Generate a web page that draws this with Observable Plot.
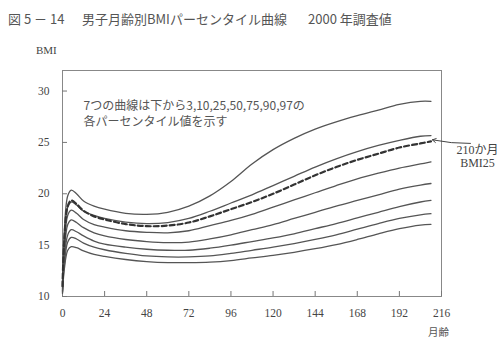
<!DOCTYPE html>
<html>
<head>
<meta charset="utf-8">
<script src="https://cdn.jsdelivr.net/npm/d3@7"></script>
<script src="https://cdn.jsdelivr.net/npm/@observablehq/plot@0.6"></script>
<style>
  html, body { margin: 0; padding: 0; background: #fff; }
  #wrap { position: relative; width: 500px; height: 362px; overflow: hidden; }
  .lbl { position: absolute; white-space: pre; color: #555; }
  .title { font-family: "Noto Sans CJK JP", sans-serif; font-size: 13px; line-height: 13px; top: 12px; color: #555; }
  .serif { font-family: "Liberation Serif", serif; font-size: 11px; line-height: 12px; color: #444; }
  .cjk { font-family: "Noto Sans CJK JP", sans-serif; font-size: 10.5px; line-height: 12px; color: #555; }
</style>
</head>
<body>
<div id="wrap">
  <div class="lbl title" style="left:8px">図 5 － 14</div>
  <div class="lbl title" style="left:82px">男子月齢別BMIパーセンタイル曲線</div>
  <div class="lbl title" style="left:308px">2000 年調査値</div>
  <div class="lbl serif" style="left:36px; top:44px">BMI</div>
  <div class="lbl cjk" style="left:428px; top:326px">月齢</div>
</div>
<script>
// ---- data ----
const months = [0, 1, 3, 5, 8, 12, 18, 24, 36, 48, 60, 72, 84, 96, 108, 120, 132, 144, 156, 168, 180, 192, 204, 210];
const p97 = [11.2, 16.3, 19.8, 20.35, 20.0, 19.3, 18.8, 18.5, 18.1, 18.0, 18.2, 18.8, 19.8, 21.2, 22.9, 24.3, 25.4, 26.3, 27.0, 27.6, 28.15, 28.7, 29.0, 29.0];
const p90 = [11.0, 15.4, 18.7, 19.2, 18.9, 18.3, 17.9, 17.6, 17.25, 17.1, 17.2, 17.6, 18.3, 19.1, 19.9, 20.8, 21.7, 22.6, 23.4, 24.1, 24.7, 25.2, 25.6, 25.66];
const p75 = [10.8, 14.8, 17.9, 18.4, 18.1, 17.5, 17.0, 16.75, 16.4, 16.25, 16.2, 16.4, 16.9, 17.4, 18.0, 18.7, 19.4, 20.1, 20.8, 21.45, 22.0, 22.5, 22.9, 23.1];
const p50 = [10.6, 14.1, 17.0, 17.45, 17.2, 16.7, 16.2, 15.9, 15.55, 15.35, 15.25, 15.3, 15.6, 16.0, 16.5, 17.0, 17.6, 18.2, 18.8, 19.35, 19.9, 20.45, 20.85, 21.0];
const p25 = [10.5, 13.5, 16.0, 16.5, 16.3, 15.9, 15.4, 15.1, 14.8, 14.6, 14.5, 14.5, 14.7, 15.0, 15.35, 15.7, 16.1, 16.6, 17.1, 17.65, 18.2, 18.75, 19.2, 19.36];
const p10 = [10.4, 13.0, 15.3, 15.75, 15.6, 15.2, 14.8, 14.55, 14.2, 13.95, 13.85, 13.85, 13.95, 14.2, 14.5, 14.8, 15.15, 15.55, 16.0, 16.55, 17.1, 17.6, 17.95, 18.06];
const p3  = [10.3, 12.6, 14.5, 14.85, 14.75, 14.45, 14.1, 13.9, 13.6, 13.4, 13.3, 13.3, 13.35, 13.5, 13.75, 14.0, 14.3, 14.65, 15.05, 15.55, 16.1, 16.6, 16.95, 17.02];
const bmi25 = [11.0, 15.4, 18.8, 19.35, 19.0, 18.35, 17.8, 17.5, 17.05, 16.85, 16.9, 17.2, 17.8, 18.5, 19.2, 20.0, 20.9, 21.8, 22.6, 23.3, 23.9, 24.5, 24.9, 25.1];
const xTicks = [0, 24, 48, 72, 96, 120, 144, 168, 192, 216];
const yTicks = [10, 15, 20, 25, 30];
const noteText = "7つの曲線は下から3,10,25,50,75,90,97の\n各パーセンタイル値を示す";
const noteAt = [12, 27.85];
const calloutText = "210か月\nBMI25";
const calloutAt = [236.5, 23.65];
const arrowTail = [232.5, 24.9];
const arrowTip = [210.8, 25.25];

const series = [p3, p10, p25, p50, p75, p90, p97];
const rows = series.flatMap((vals, i) => vals.map((v, j) => ({month: months[j], bmi: v, s: i})));
const dashedRows = bmi25.map((v, j) => ({month: months[j], bmi: v}));

const chart = Plot.plot({
  width: 500,
  height: 362,
  marginLeft: 62,
  marginRight: 59,
  marginTop: 70,
  marginBottom: 66,
  style: {background: "transparent", overflow: "visible"},
  x: {domain: [0, 216]},
  y: {domain: [10, 32]},
  marks: [
    Plot.frame({stroke: "#888", strokeWidth: 1}),
    Plot.axisX({ticks: xTicks, tickSize: -5, tickPadding: 17, label: null, stroke: "#777",
      fontFamily: "Liberation Serif", fontSize: 11.5, fill: "#444"}),
    Plot.axisY({ticks: yTicks, tickSize: -5, tickPadding: 18, label: null, stroke: "#777",
      fontFamily: "Liberation Serif", fontSize: 11.5, fill: "#444"}),
    Plot.line(rows, {x: "month", y: "bmi", z: "s", stroke: "#555", strokeWidth: 1.3, curve: "catmull-rom"}),
    Plot.line(dashedRows, {x: "month", y: "bmi", stroke: "#333", strokeWidth: 2.2, strokeDasharray: "5,3", curve: "catmull-rom"}),
    Plot.text([noteText], {x: noteAt[0], y: noteAt[1], text: d => d, textAnchor: "start", lineAnchor: "middle",
      lineHeight: 1.33, fontSize: 12, fontFamily: "Noto Sans CJK JP", fill: "#555"}),
    Plot.text([calloutText], {x: calloutAt[0], y: calloutAt[1], text: d => d, textAnchor: "middle", lineAnchor: "middle",
      lineHeight: 1.05, fontSize: 12, fontFamily: "Liberation Serif, Noto Sans CJK JP", fill: "#444", clip: false}),
    Plot.arrow([0], {x1: () => arrowTail[0], y1: () => arrowTail[1], x2: () => arrowTip[0], y2: () => arrowTip[1],
      stroke: "#444", strokeWidth: 1, headLength: 6, bend: 6, clip: false})
  ]
});
chart.style.position = "absolute";
chart.style.left = "0px";
chart.style.top = "0px";
document.getElementById("wrap").prepend(chart);
</script>
</body>
</html>
